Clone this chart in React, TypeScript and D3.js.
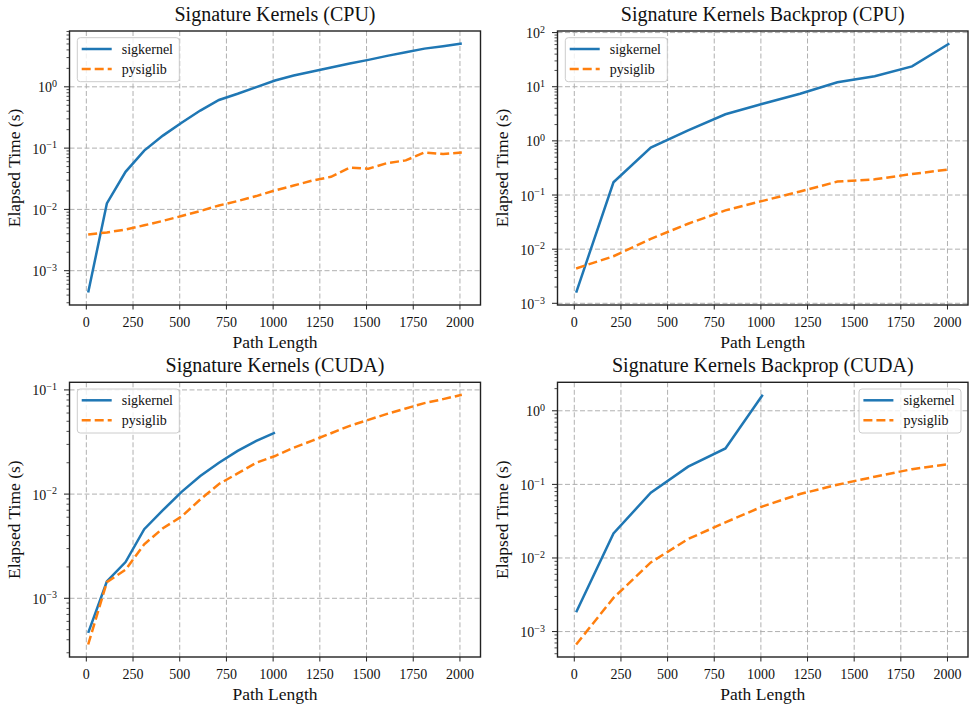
import * as d3 from 'd3';

// --- data ---
const lengthsBy100 = [10, 110, 210, 310, 410, 510, 610, 710, 810, 910, 1010, 1110, 1210, 1310, 1410, 1510, 1610, 1710, 1810, 1910, 2010];
const lengthsBy200 = [10, 210, 410, 610, 810, 1010, 1210, 1410, 1610, 1810, 2010];
const lengthsBy100Short = [10, 110, 210, 310, 410, 510, 610, 710, 810, 910, 1010];
const lengthsBy200Short = [10, 210, 410, 610, 810, 1010];

// Signature Kernels (CPU)
const cpuSigkernel = [0.00044, 0.0125, 0.041, 0.091, 0.16, 0.26, 0.41, 0.61, 0.77, 0.99, 1.27, 1.53, 1.78, 2.06, 2.4, 2.75, 3.2, 3.66, 4.2, 4.6, 5.1];
const cpuPysiglib = [0.0039, 0.0042, 0.0047, 0.0055, 0.0065, 0.0078, 0.0094, 0.0116, 0.0137, 0.0165, 0.0204, 0.0245, 0.0296, 0.034, 0.048, 0.046, 0.057, 0.063, 0.085, 0.08, 0.085];

// Signature Kernels Backprop (CPU)
const cpuBackSigkernel = [0.00158, 0.172, 0.75, 1.57, 3.1, 4.85, 7.4, 12.1, 15.6, 23.8, 63];
const cpuBackPysiglib = [0.0044, 0.0074, 0.0155, 0.0295, 0.052, 0.078, 0.116, 0.177, 0.195, 0.244, 0.298];

// Signature Kernels (CUDA)
const cudaSigkernel = [0.000465, 0.00145, 0.00223, 0.0046, 0.007, 0.0105, 0.0149, 0.02, 0.026, 0.0324, 0.0389];
const cudaPysiglib = [0.00036, 0.00143, 0.00188, 0.0033, 0.0047, 0.0061, 0.0089, 0.0125, 0.0158, 0.02, 0.0232, 0.0279, 0.0326, 0.0384, 0.0452, 0.0516, 0.0589, 0.0664, 0.0747, 0.0816, 0.0898];

// Signature Kernels Backprop (CUDA)
const cudaBackSigkernel = [0.00183, 0.0216, 0.077, 0.174, 0.308, 1.65];
const cudaBackPysiglib = [0.000667, 0.00287, 0.0087, 0.0181, 0.0305, 0.0503, 0.074, 0.099, 0.127, 0.161, 0.189];

const xTicks = [0, 250, 500, 750, 1000, 1250, 1500, 1750, 2000];
const seriesNames = ['sigkernel', 'pysiglib'];

const FONT = "'Liberation Serif', 'Times New Roman', serif";
const BLUE = '#1f77b4';
const ORANGE = '#ff7f0e';

type Series = { name: string; xs: number[]; ys: number[]; color: string; dash?: string };

function Panel({ box, title, series, legendRight }: {
  box: { left: number; right: number; top: number; bottom: number };
  title: string;
  series: Series[];
  legendRight?: boolean;
}) {
  const { left, right, top, bottom } = box;

  // matplotlib-style 5% margins
  const allX = series.flatMap(s => s.xs);
  const [x0, x1] = d3.extent(allX) as [number, number];
  const xm = (x1 - x0) * 0.05;
  const x = d3.scaleLinear().domain([x0 - xm, x1 + xm]).range([left, right]);

  const logs = series.flatMap(s => s.ys.map(v => Math.log10(v)));
  const [l0, l1] = d3.extent(logs) as [number, number];
  const lm = (l1 - l0) * 0.05;
  const y = d3.scaleLog().domain([10 ** (l0 - lm), 10 ** (l1 + lm)]).range([bottom, top]);

  const majors: number[] = [];
  const minors: number[] = [];
  for (let k = Math.floor(l0 - lm) - 1; k <= Math.ceil(l1 + lm); k++) {
    const base = 10 ** k;
    if (k >= l0 - lm - 1e-3 && k <= l1 + lm + 1e-3) majors.push(k);
    for (let m = 2; m <= 9; m++) {
      const v = m * base;
      const lv = Math.log10(v);
      if (lv >= l0 - lm && lv <= l1 + lm) minors.push(v);
    }
  }

  const line = d3.line<[number, number]>().x(d => x(d[0])).y(d => y(d[1]));

  const legW = 102;
  const legH = 44;
  const legX = legendRight ? right - 7 - legW : left + 7.8;
  const legY = top + 6.7;

  return (
    <g>
      {/* grid */}
      {xTicks.map(t => (
        <line key={'gx' + t} x1={x(t)} x2={x(t)} y1={top} y2={bottom} stroke="#b0b0b0" strokeWidth={1} strokeDasharray="5,2.5" />
      ))}
      {majors.map(k => (
        <line key={'gy' + k} x1={left} x2={right} y1={y(10 ** k)} y2={y(10 ** k)} stroke="#b0b0b0" strokeWidth={1} strokeDasharray="5,2.5" />
      ))}

      {/* series */}
      {series.map(s => (
        <path key={s.name} d={line(s.xs.map((v, i) => [v, s.ys[i]] as [number, number])) || ''}
          fill="none" stroke={s.color} strokeWidth={2.5} strokeDasharray={s.dash} />
      ))}

      {/* frame */}
      <rect x={left} y={top} width={right - left} height={bottom - top} fill="none" stroke="#222" strokeWidth={1.4} />

      {/* x ticks */}
      {xTicks.map(t => (
        <g key={'xt' + t}>
          <line x1={x(t)} x2={x(t)} y1={bottom} y2={bottom + 4.5} stroke="#222" strokeWidth={1} />
          <text x={x(t)} y={bottom + 22} textAnchor="middle" fontSize={14} fontFamily={FONT} fill="#111">{t}</text>
        </g>
      ))}
      <text x={(left + right) / 2} y={bottom + 42.5} textAnchor="middle" fontSize={17.5} fontFamily={FONT} fill="#111">Path Length</text>

      {/* y ticks */}
      {minors.map(v => (
        <line key={'ym' + v} x1={left - 3} x2={left} y1={y(v)} y2={y(v)} stroke="#222" strokeWidth={0.8} />
      ))}
      {majors.map(k => (
        <g key={'yt' + k}>
          <line x1={left - 5.5} x2={left} y1={y(10 ** k)} y2={y(10 ** k)} stroke="#222" strokeWidth={1} />
          <text x={left - 12.5} y={y(10 ** k) + 5.5} textAnchor="end" fontSize={14} fontFamily={FONT} fill="#111">
            10<tspan fontSize={10} dy={-5.3}>{k < 0 ? '\u2212' + Math.abs(k) : String(k)}</tspan>
          </text>
        </g>
      ))}
      <text transform={`translate(${left - 49.5},${(top + bottom) / 2}) rotate(-90)`} textAnchor="middle" fontSize={17.5} fontFamily={FONT} fill="#111">Elapsed Time (s)</text>

      {/* title */}
      <text x={(left + right) / 2} y={top - 10.5} textAnchor="middle" fontSize={20} fontFamily={FONT} fill="#111">{title}</text>

      {/* legend */}
      <rect x={legX} y={legY} width={legW} height={legH} rx={3} fill="white" fillOpacity={0.8} stroke="#cccccc" strokeWidth={1} />
      {series.map((s, i) => (
        <g key={'lg' + s.name}>
          <line x1={legX + 4.4} x2={legX + 34.4} y1={legY + 11.3 + i * 20} y2={legY + 11.3 + i * 20}
            stroke={s.color} strokeWidth={2.5} strokeDasharray={s.dash} />
          <text x={legX + 44.4} y={legY + 16.3 + i * 20} fontSize={14} fontFamily={FONT} fill="#111">{s.name}</text>
        </g>
      ))}
    </g>
  );
}

export default function App() {
  const leftCol = { left: 69.5, right: 480.5 };
  const rightCol = { left: 557.5, right: 968 };
  const topRow = { top: 31, bottom: 305 };
  const botRow = { top: 382.3, bottom: 657 };

  return (
    <svg width={969} height={704} style={{ position: 'absolute', left: 0, top: 0, background: 'white' }}>
      <Panel box={{ ...leftCol, ...topRow }} title="Signature Kernels (CPU)" series={[
        { name: seriesNames[0], xs: lengthsBy100, ys: cpuSigkernel, color: BLUE },
        { name: seriesNames[1], xs: lengthsBy100, ys: cpuPysiglib, color: ORANGE, dash: '9,4' },
      ]} />
      <Panel box={{ ...rightCol, ...topRow }} title="Signature Kernels Backprop (CPU)" series={[
        { name: seriesNames[0], xs: lengthsBy200, ys: cpuBackSigkernel, color: BLUE },
        { name: seriesNames[1], xs: lengthsBy200, ys: cpuBackPysiglib, color: ORANGE, dash: '9,4' },
      ]} />
      <Panel box={{ ...leftCol, ...botRow }} title="Signature Kernels (CUDA)" series={[
        { name: seriesNames[0], xs: lengthsBy100Short, ys: cudaSigkernel, color: BLUE },
        { name: seriesNames[1], xs: lengthsBy100, ys: cudaPysiglib, color: ORANGE, dash: '9,4' },
      ]} />
      <Panel box={{ ...rightCol, ...botRow }} title="Signature Kernels Backprop (CUDA)" legendRight series={[
        { name: seriesNames[0], xs: lengthsBy200Short, ys: cudaBackSigkernel, color: BLUE },
        { name: seriesNames[1], xs: lengthsBy200, ys: cudaBackPysiglib, color: ORANGE, dash: '9,4' },
      ]} />
    </svg>
  );
}
